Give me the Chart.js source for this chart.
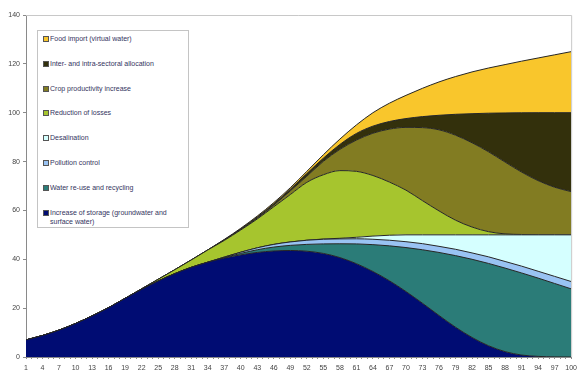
<!DOCTYPE html>
<html>
<head>
<meta charset="utf-8">
<script src="https://cdn.jsdelivr.net/npm/chart.js@4"></script>
<style>
  html, body { margin: 0; padding: 0; background: #fff; }
  #wrap { position: relative; width: 582px; height: 377px; }
  #legend {
    position: absolute; left: 37px; top: 30px; width: 152px; height: 198px;
    border: 1px solid #c4c4c4; background: #fff; box-sizing: border-box;
    font-family: "Liberation Sans", Arial, sans-serif; font-size: 7px; color: #34345e;
  }
  .item { position: absolute; left: 5px; width: 142px; line-height: 9px; }
  .sw { position: absolute; left: 0; top: 2px; width: 4px; height: 4px; border: 1px solid #555; }
  .tx { margin-left: 7px; display: block; }
</style>
</head>
<body>
<div id="wrap">
  <canvas id="c" width="582" height="377"></canvas>
  <div id="legend"></div>
</div>
<script>
// x positions (time steps) shown on the axis
const categories = [1, 4, 7, 10, 13, 16, 19, 22, 25, 28, 31, 34, 37, 40, 43, 46, 49,
                    52, 55, 58, 61, 64, 67, 70, 73, 76, 79, 82, 85, 88, 91, 94, 97, 100];

// contribution of each measure (stacked from the bottom up)
const storage      = [7, 8.8, 11, 13.7, 16.8, 20.2, 24, 27.7, 31.1, 34.1, 36.7, 38.8, 40.5, 41.8, 42.8, 43.4, 43.6,
                      43.3, 42.4, 40.7, 38.2, 35, 31.2, 26.8, 22, 17, 12.2, 8, 4.6, 2.2, 0.8, 0.25, 0.05, 0];
const reuse        = [0, 0, 0, 0, 0, 0, 0, 0, 0, 0, 0, 0, 0.2, 0.6, 1.1, 1.6, 2.1,
                      2.8, 3.9, 5.65, 8.1, 11, 14.3, 18, 21.9, 25.8, 29.3, 32, 33.7, 34.2, 33.6, 32.05, 30.05, 27.9];
const pollution    = [0, 0, 0, 0, 0, 0, 0, 0, 0, 0, 0, 0, 0.2, 0.5, 0.8, 1.1, 1.4,
                      1.7, 1.9, 2.0, 2.1, 2.2, 2.3, 2.4, 2.5, 2.5, 2.6, 2.6, 2.7, 2.7, 2.8, 2.8, 2.9, 3.0];
const desalination = [0, 0, 0, 0, 0, 0, 0, 0, 0, 0, 0, 0, 0, 0, 0, 0, 0,
                      0, 0.1, 0.25, 0.6, 1.3, 2.05, 2.8, 3.6, 4.7, 5.9, 7.4, 9, 10.9, 12.8, 14.9, 17, 19.1];
const losses       = [0, 0, 0, 0, 0, 0, 0, 0.2, 0.7, 1.6, 3, 5, 6.8, 9.1, 11.8, 15.4, 19.4,
                      23.7, 26.3, 27.7, 27, 24.8, 21.75, 18.3, 14, 9.8, 6, 3.2, 1.3, 0.4, 0.15, 0.03, 0, 0];
const crop         = [0, 0, 0, 0, 0, 0, 0, 0, 0, 0, 0, 0, 0.2, 0.3, 0.4, 0.7, 1.5,
                      2.5, 5.5, 8.7, 12.8, 17.3, 21.7, 25.7, 29.9, 33.2, 34.8, 34.5, 32.7, 29.4, 25.55, 22.17, 19.5, 17.7];
const allocation   = [0, 0, 0, 0, 0, 0, 0, 0, 0, 0, 0, 0, 0.1, 0.1, 0.4, 0.5, 0.7,
                      1.1, 1.3, 2, 2.7, 2.9, 3.1, 3.6, 4.5, 5.95, 8.55, 11.9, 15.8, 20.1, 24.27, 27.8, 30.5, 32.3];
const foodImport   = [0, 0, 0, 0, 0, 0, 0, 0, 0, 0, 0, 0, 0.1, 0.3, 0.4, 0.5, 0.6,
                      0.9, 1.4, 2.2, 3.5, 5.5, 7.5, 9.5, 11.6, 13.65, 15.45, 17.1, 18.5, 19.8, 21.13, 22.4, 23.7, 25];

const yTicks = [0, 20, 40, 60, 80, 100, 120, 140];

const seriesDefs = [
  { label: 'Increase of storage (groundwater and surface water)', data: storage,      color: '#000c73' },
  { label: 'Water re-use and recycling',                          data: reuse,        color: '#2b7c78' },
  { label: 'Pollution control',                                   data: pollution,    color: '#99c3f3' },
  { label: 'Desalination',                                        data: desalination, color: '#d5ffff' },
  { label: 'Reduction of losses',                                 data: losses,       color: '#a6c52e' },
  { label: 'Crop productivity increase',                          data: crop,         color: '#827c22' },
  { label: 'Inter- and intra-sectoral allocation',                data: allocation,   color: '#33300c' },
  { label: 'Food import (virtual water)',                         data: foodImport,   color: '#f9c62c' }
];

const datasets = seriesDefs.map((s, i) => ({
  label: s.label,
  data: s.data.map((v, j) => ({ x: categories[j], y: v })),
  backgroundColor: s.color,
  borderColor: '#262626',
  borderWidth: 1,
  pointRadius: 0,
  cubicInterpolationMode: 'monotone',
  fill: i === 0 ? 'origin' : '-1'
}));

const tickFont = { family: '"Liberation Sans", Arial, sans-serif', size: 7 };

// thin grey frame along the top and right of the plot area
const frame = {
  id: 'frame',
  afterDraw(chart) {
    const { ctx, chartArea: a } = chart;
    ctx.save();
    ctx.strokeStyle = '#c8c8c8';
    ctx.lineWidth = 1;
    ctx.beginPath();
    ctx.moveTo(a.left, a.top + 0.5);
    ctx.lineTo(a.right + 0.5, a.top + 0.5);
    ctx.lineTo(a.right + 0.5, a.bottom);
    ctx.stroke();
    ctx.restore();
  }
};

new Chart(document.getElementById('c'), {
  type: 'line',
  data: { datasets },
  options: {
    responsive: false,
    animation: false,
    layout: { padding: { top: 15, right: 7, left: 0, bottom: 0 } },
    plugins: { legend: { display: false }, tooltip: { enabled: false } },
    scales: {
      x: {
        type: 'linear',
        min: 1, max: 100,
        afterBuildTicks(scale) {
          const t = [];
          for (let v = 1; v <= 100; v++) t.push({ value: v });
          scale.ticks = t;
        },
        afterFit(scale) { scale.height = 20; },
        grid: { drawOnChartArea: false, drawTicks: true, tickLength: 2, color: '#8a8a8a' },
        border: { display: true, color: '#8a8a8a' },
        ticks: {
          autoSkip: false, maxRotation: 0, padding: 5,
          color: '#444', font: tickFont,
          callback: v => (categories.includes(v) ? String(v) : '')
        }
      },
      y: {
        stacked: true,
        min: 0, max: 140,
        afterBuildTicks(scale) { scale.ticks = yTicks.map(v => ({ value: v })); },
        afterFit(scale) { scale.width = 26; },
        grid: { drawOnChartArea: false, drawTicks: true, tickLength: 3, color: '#8a8a8a' },
        border: { display: true, color: '#8a8a8a' },
        ticks: { padding: 3, color: '#444', font: tickFont }
      }
    }
  },
  plugins: [frame]
});

// legend box, listing the measures from the top of the stack down
const legend = document.getElementById('legend');
seriesDefs.slice().reverse().forEach((s, i) => {
  const item = document.createElement('div');
  item.className = 'item';
  item.style.top = (3 + i * 24.8) + 'px';
  const sw = document.createElement('span');
  sw.className = 'sw';
  sw.style.background = s.color;
  const tx = document.createElement('span');
  tx.className = 'tx';
  tx.textContent = s.label;
  item.appendChild(sw);
  item.appendChild(tx);
  legend.appendChild(item);
});
</script>
</body>
</html>
